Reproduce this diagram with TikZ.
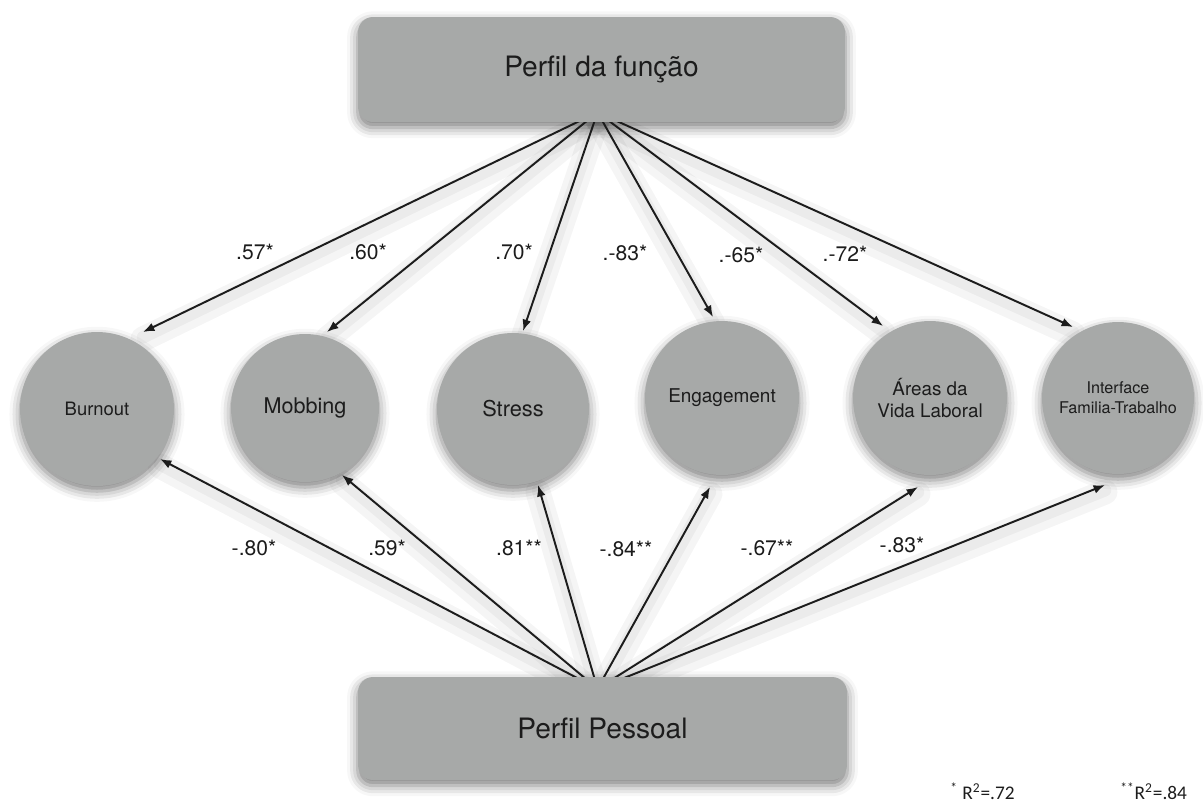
\documentclass[tikz,border=0pt]{standalone}
\usepackage{fontspec}
\setmainfont{TeX Gyre Heros}
\newfontfamily\notefont{Carlito}
\usetikzlibrary{arrows.meta,shadows.blur}
\pgfdeclarelayer{shade}
\pgfdeclarelayer{links}
\pgfsetlayers{shade,links,main}
\definecolor{shapegray}{RGB}{167,169,168}
\definecolor{ink}{RGB}{28,28,28}

\tikzset{
  panel/.style={rounded corners=0.3cm, fill=shapegray, text=ink, inner sep=0pt,
    minimum width=9.74cm, minimum height=2.1cm, font=\fontsize{16}{19}\selectfont},
  latent/.style={circle, fill=shapegray, text=ink, inner sep=0pt, align=center,
    minimum size=3.08cm},
  soft/.style={blur shadow={shadow xshift=0pt, shadow yshift=-3pt,
    shadow blur radius=6pt, shadow opacity=50}},
  link/.style={line width=1.1pt, draw=ink, -{Latex[length=6.5pt,width=5pt]}},
  linkshade/.style={line width=#1, draw=black, draw opacity=0.04, line cap=round},
  coef/.style={text=ink, font=\fontsize{12}{14}\selectfont},
  note/.style={text=ink, inner sep=0pt, anchor=base west,
    font=\notefont\fontsize{11}{13}\selectfont},
}

\begin{document}
\begin{tikzpicture}[x=0.02cm, y=-0.02cm]
\useasboundingbox (0,0) rectangle (1203,805);

% the two profiles
\node[panel] (fn) at (601.5,69.5) {Perfil da função};
\node[panel, minimum width=9.78cm, minimum height=2.06cm] (pp) at (602.5,728.5) {Perfil Pessoal};

% outcome variables
\node[latent, font=\fontsize{10.5}{12.6}\selectfont] (burnout) at (97,409) {Burnout};
\node[latent, minimum size=2.96cm, font=\fontsize{12.3}{14}\selectfont] (mobbing) at (305,408) {Mobbing};
\node[latent, minimum size=3.04cm, font=\fontsize{12.4}{14}\selectfont] (stress) at (513,409) {Stress};
\node[latent, font=\fontsize{10.8}{13}\selectfont] (engage) at (722,398) {Engagement};
\node[latent, font=\fontsize{10.7}{13}\selectfont] (areas) at (930,398) {Áreas da\\Vida Laboral};
\node[latent, minimum size=3.04cm, font=\fontsize{9.2}{11.4}\selectfont] (wfi) at (1118,398) {Interface\\Familia-Trabalho};

% soft drop shadows under every shape
\begin{pgfonlayer}{shade}
  \foreach \b in {fn,pp}
    \path[soft, rounded corners=0.3cm] (\b.south west) rectangle (\b.north east);
  \foreach \c/\r in {burnout/1.54cm, mobbing/1.48cm, stress/1.52cm, engage/1.54cm, areas/1.54cm, wfi/1.52cm}
    \path[soft] (\c.center) circle[radius=\r];
\end{pgfonlayer}

% paths from the job profile
\foreach \c/\dx/\dy in {burnout/46/-77, mobbing/22/-76, stress/10/-78, engage/-9/-81, areas/-47/-72, wfi/-45/-71} {
  \begin{pgfonlayer}{shade}
    \draw[linkshade=0.5cm, transform canvas={yshift=-4pt}] ([shift={(-4,-10)}]fn.south) -- ([shift={(\dx,\dy)}]\c.center);
    \draw[linkshade=0.25cm, transform canvas={yshift=-3pt}] ([shift={(-4,-10)}]fn.south) -- ([shift={(\dx,\dy)}]\c.center);
  \end{pgfonlayer}
  \begin{pgfonlayer}{links}
    \draw[link] ([shift={(-4,-10)}]fn.south) -- ([shift={(\dx,\dy)}]\c.center);
  \end{pgfonlayer}
}

% paths from the personal profile
\foreach \c/\dx/\dy in {burnout/63/50, mobbing/37/67, stress/25/76, engage/-12/89, areas/-12/89, wfi/-13/87} {
  \begin{pgfonlayer}{shade}
    \draw[linkshade=0.5cm, transform canvas={yshift=-4pt}] ([shift={(-5,12)}]pp.north) -- ([shift={(\dx,\dy)}]\c.center);
    \draw[linkshade=0.25cm, transform canvas={yshift=-3pt}] ([shift={(-5,12)}]pp.north) -- ([shift={(\dx,\dy)}]\c.center);
  \end{pgfonlayer}
  \begin{pgfonlayer}{links}
    \draw[link] ([shift={(-5,12)}]pp.north) -- ([shift={(\dx,\dy)}]\c.center);
  \end{pgfonlayer}
}

% coefficients, upper paths
\node[coef] (a1) at (255,252) {.57*};
\node[coef] (a2) at (368,252) {.60*};
\node[coef] (a3) at (514,252) {.70*};
\node[coef] (a4) at (625,253) {.-83*};
\node[coef] (a5) at (741,255) {.-65*};
\node[coef] (a6) at (845,254) {.-72*};

% coefficients, lower paths
\node[coef] (b1) at (254,548) {-.80*};
\node[coef] (b2) at (387,548) {.59*};
\node[coef] (b3) at (519,548) {.81**};
\node[coef] (b4) at (626,549) {-.84**};
\node[coef] (b5) at (767,548) {-.67**};
\node[coef] (b6) at (902,545) {-.83*};

% explained variance
\node[note] (r1) at (950,799) {\textsuperscript{*} R\textsuperscript{2}=.72};
\node[note] (r2) at (1120,799) {\textsuperscript{**}R\textsuperscript{2}=.84};
\end{tikzpicture}
\end{document}
